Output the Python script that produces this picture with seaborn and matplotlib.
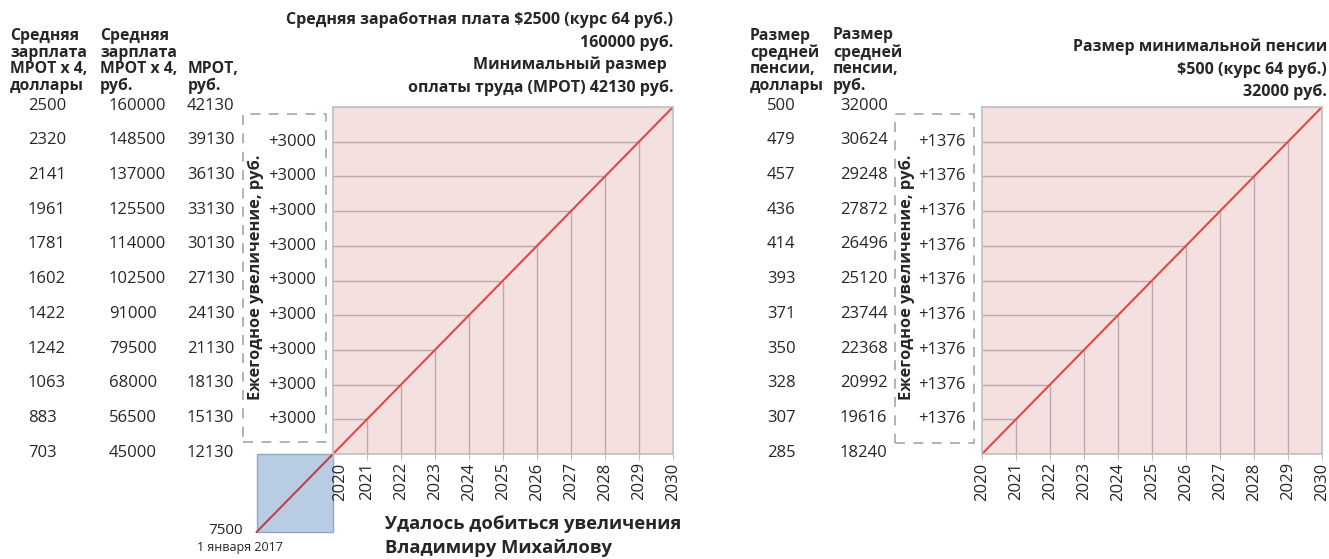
import matplotlib
matplotlib.use("Agg")
import matplotlib.pyplot as plt
import matplotlib.transforms as mtransforms
from matplotlib.patches import Rectangle
import seaborn as sns
import pandas as pd

# ---- data ----
years = [2020, 2021, 2022, 2023, 2024, 2025, 2026, 2027, 2028, 2029, 2030]

mrot_rub = [12130, 15130, 18130, 21130, 24130, 27130, 30130, 33130, 36130, 39130, 42130]
salary_rub = [45000, 56500, 68000, 79500, 91000, 102500, 114000, 125500, 137000, 148500, 160000]
salary_usd = [703, 883, 1063, 1242, 1422, 1602, 1781, 1961, 2141, 2320, 2500]
mrot_step = "+3000"

pension_rub = [18240, 19616, 20992, 22368, 23744, 25120, 26496, 27872, 29248, 30624, 32000]
pension_usd = [285, 307, 328, 350, 371, 393, 414, 436, 457, 479, 500]
pension_step = "+1376"

start_value = "7500"
start_date = "1 января 2017"

W, H = 1329, 559

sns.set_style("white")
plt.rcParams["font.family"] = ["Open Sans", "DejaVu Sans"]

PINK = "#F3E0DF"
GRID = "#BDA9AB"
FRAME = "#BFBFBF"
RED = "#E04848"
DASH = "#A6A6A6"


def fx(px):
    return px / W


def fy(py):
    return 1 - py / H


fig = plt.figure(figsize=(W / 100, H / 100), dpi=100)


def panel(x0, values):
    ax = fig.add_axes([fx(x0), fy(454), 340 / W, 347 / H])
    ax.set_facecolor(PINK)
    df = pd.DataFrame({"year": years, "value": values})
    # drop lines from each yearly point to the axes
    ax.vlines(df["year"][1:-1], values[0], df["value"][1:-1], color=GRID, lw=1)
    ax.hlines(df["value"][1:-1], years[0], df["year"][1:-1], color=GRID, lw=1)
    sns.lineplot(data=df, x="year", y="value", color=RED, lw=1.5, ax=ax)
    ax.set_xlim(years[0], years[-1])
    ax.set_ylim(values[0], values[-1])
    ax.set_xticks(years)
    ax.set_yticks([])
    ax.set_xlabel("")
    ax.set_ylabel("")
    ax.tick_params(axis="x", labelrotation=90, labelsize=12, length=4,
                   color=FRAME, pad=2, bottom=True)
    for s in ax.spines.values():
        s.set_color(FRAME)
        s.set_linewidth(1.2)
    return ax


def column(ax, x_px, yvals, labels):
    tr = mtransforms.blended_transform_factory(fig.transFigure, ax.transData)
    off = mtransforms.offset_copy(tr, fig=fig, y=1, units="points")
    for v, lab in zip(yvals, labels):
        fig.text(fx(x_px), v, str(lab), transform=off, va="center", fontsize=12)


def dashed_box(x0, y0, x1, y1):
    fig.patches.append(Rectangle((fx(x0), fy(y1)), fx(x1) - fx(x0), fy(y0) - fy(y1),
                                 transform=fig.transFigure, fill=False,
                                 edgecolor=DASH, lw=1.2, ls=(0, (6, 5))))


hdr = dict(fontsize=11.3, fontweight="bold", va="bottom", ha="left", linespacing=1.05)
ttl = dict(fontsize=11.5, fontweight="bold", ha="right", va="center")

# ---------- left panel: MROT ----------
axL = panel(333, mrot_rub)

# blue square for the 2017 start value
ext = 2.25
ext_y = ext * (mrot_rub[1] - mrot_rub[0])
axL.add_patch(Rectangle((years[0] - ext, mrot_rub[0] - ext_y), ext, ext_y,
                        facecolor="#B8CCE4", edgecolor="#8EA9C8", lw=1,
                        clip_on=False, zorder=0.3))
axL.plot([years[0] - ext, years[0]], [mrot_rub[0] - ext_y, mrot_rub[0]],
         color="#C0404A", lw=1.5, clip_on=False, zorder=0.35)
# first year label sits just right of the square
lab0 = axL.get_xticklabels()[0]
lab0.set_transform(lab0.get_transform() + mtransforms.ScaledTranslation(7 / 100, 0, fig.dpi_scale_trans))

column(axL, 28, mrot_rub, salary_usd)
column(axL, 109, mrot_rub, salary_rub)
column(axL, 187, mrot_rub, mrot_rub)

trL = mtransforms.blended_transform_factory(fig.transFigure, axL.transData)
for v in mrot_rub[1:-1]:
    fig.text(fx(316), v, mrot_step, transform=trL, ha="right", va="center", fontsize=12)

dashed_box(243, 114, 326, 442)
fig.text(fx(256), fy(277), "Ежегодное увеличение, руб.", rotation=90, ha="center",
         va="center", fontsize=11.8, fontweight="bold")

fig.text(fx(10), fy(94), "Средняя\nзарплата\nМРОТ х 4,\nдоллары", **hdr)
fig.text(fx(100), fy(94), "Средняя\nзарплата\nМРОТ х 4,\nруб.", **hdr)
fig.text(fx(188), fy(94), "МРОТ,\nруб.", **hdr)

fig.text(fx(673), fy(20), "Средняя заработная плата $2500 (курс 64 руб.)", **ttl)
fig.text(fx(673), fy(43), "160000 руб.", **ttl)
fig.text(fx(667), fy(65), "Минимальный размер", **ttl)
fig.text(fx(673), fy(88), "оплаты труда (МРОТ) 42130 руб.", **ttl)

fig.text(fx(243), fy(531), start_value, ha="right", va="center", fontsize=11)
fig.text(fx(240), fy(548), start_date, ha="center", va="center", fontsize=9)
fig.text(fx(385), fy(524), "Удалось добиться увеличения", ha="left", va="center",
         fontsize=13.2, fontweight="bold")
fig.text(fx(385), fy(548), "Владимиру Михайлову", ha="left", va="center",
         fontsize=13.2, fontweight="bold")

# ---------- right panel: pension ----------
axR = panel(982, pension_rub)

column(axR, 767, pension_rub, pension_usd)
column(axR, 840, pension_rub, pension_rub)

trR = mtransforms.blended_transform_factory(fig.transFigure, axR.transData)
for v in pension_rub[1:-1]:
    fig.text(fx(966), v, pension_step, transform=trR, ha="right", va="center", fontsize=12)

dashed_box(895, 114, 974, 443)
fig.text(fx(907), fy(277), "Ежегодное увеличение, руб.", rotation=90, ha="center",
         va="center", fontsize=11.8, fontweight="bold")

fig.text(fx(750), fy(94), "Размер\nсредней\nпенсии,\nдоллары", **hdr)
fig.text(fx(833), fy(94), "Размер\nсредней\nпенсии,\nруб.", **hdr)

fig.text(fx(1327), fy(47), "Размер минимальной пенсии", **ttl)
fig.text(fx(1327), fy(70), "$500 (курс 64 руб.)", **ttl)
fig.text(fx(1327), fy(92), "32000 руб.", **ttl)

fig.savefig("out.png", dpi=100)
